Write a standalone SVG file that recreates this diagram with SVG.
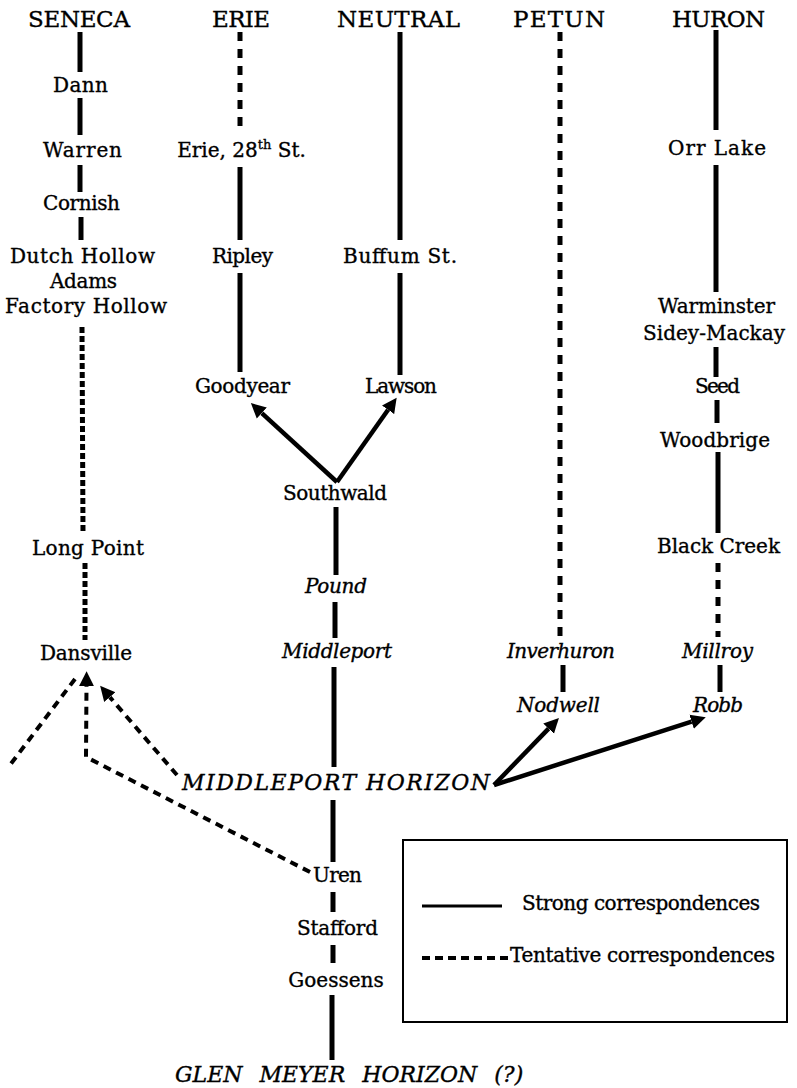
<svg xmlns="http://www.w3.org/2000/svg" width="797" height="1088" viewBox="0 0 797 1088">
<style>
text{font-family:"DejaVu Serif","Liberation Serif",serif;font-size:20px;fill:#000;stroke:#000;stroke-width:0.35;text-anchor:middle}
.h{font-size:23px}
.i{font-style:italic}
.hz{font-style:italic;font-size:22px;text-anchor:start}
.lg{text-anchor:start}
.s{stroke:#000;stroke-width:5;fill:none}
.d1{stroke:#000;stroke-width:5;fill:none;stroke-dasharray:6 3}
.d2{stroke:#000;stroke-width:5;fill:none;stroke-dasharray:9 8}
.d3{stroke:#000;stroke-width:4;fill:none;stroke-dasharray:8 6}
.a{stroke:#000;stroke-width:4.5;fill:none}
</style>
<defs>
<marker id="ah" markerUnits="userSpaceOnUse" markerWidth="16" markerHeight="16" refX="0" refY="0" viewBox="0 -7 14 14" orient="auto">
<path d="M0,-6.5 L13,0 L0,6.5 z" fill="#000"/>
</marker>
</defs>
<rect width="797" height="1088" fill="#fff"/>
<g id="connectors">
<line class="s" x1="80" y1="32" x2="80" y2="72"/>
<line class="s" x1="80" y1="98" x2="80" y2="135"/>
<line class="s" x1="80" y1="165" x2="80" y2="192"/>
<line class="s" x1="81" y1="217" x2="81" y2="240"/>
<line class="d1" x1="82" y1="327" x2="83" y2="532"/>
<line class="d1" x1="85" y1="563" x2="85" y2="640"/>
<line class="d2" x1="240" y1="32" x2="240" y2="133"/>
<line class="s" x1="240" y1="167" x2="240" y2="240"/>
<line class="s" x1="240" y1="273" x2="240" y2="372"/>
<line class="s" x1="400" y1="32" x2="400" y2="240"/>
<line class="s" x1="400" y1="273" x2="400" y2="375"/>
<line class="d2" x1="560" y1="32" x2="560" y2="640"/>
<line class="s" x1="563" y1="665" x2="563" y2="692"/>
<line class="s" x1="716" y1="30" x2="716" y2="130"/>
<line class="s" x1="716" y1="165" x2="716" y2="292"/>
<line class="s" x1="716" y1="347" x2="716" y2="377"/>
<line class="s" x1="717" y1="400" x2="717" y2="423"/>
<line class="s" x1="718" y1="452" x2="718" y2="533"/>
<line class="d2" x1="718" y1="563" x2="718" y2="637"/>
<line class="s" x1="720" y1="665" x2="720" y2="692"/>
<line class="s" x1="336" y1="507" x2="336" y2="575"/>
<line class="s" x1="335" y1="602" x2="335" y2="638"/>
<line class="s" x1="334" y1="667" x2="334" y2="767"/>
<line class="s" x1="333" y1="800" x2="333" y2="862"/>
<line class="s" x1="333" y1="892" x2="333" y2="912"/>
<line class="s" x1="333" y1="945" x2="333" y2="963"/>
<line class="s" x1="332" y1="995" x2="332" y2="1060"/>
<line class="a" x1="337" y1="482" x2="261.8" y2="413.1" marker-end="url(#ah)"/>
<line class="a" x1="337" y1="482" x2="388.1" y2="409.8" marker-end="url(#ah)"/>
<line class="a" x1="494" y1="785" x2="548.6" y2="728.6" marker-end="url(#ah)"/>
<line class="a" x1="494" y1="785" x2="691.6" y2="721.7" marker-end="url(#ah)"/>
<path class="d3" d="M310,872 L86,757 L86.5,686" marker-end="url(#ah)"/>
<line class="d3" x1="177" y1="775" x2="109.8" y2="697.1" marker-end="url(#ah)"/>
<line class="d3" x1="75" y1="679" x2="10" y2="765"/>
</g>
<g id="hdr-seneca"><text class="h" x="79" y="27" textLength="102">SENECA</text></g>
<g id="hdr-erie"><text class="h" x="241" y="27" textLength="58">ERIE</text></g>
<g id="hdr-neutral"><text class="h" x="398.5" y="27" textLength="123">NEUTRAL</text></g>
<g id="hdr-petun"><text class="h" x="559" y="27" textLength="92">PETUN</text></g>
<g id="hdr-huron"><text class="h" x="718.5" y="27" textLength="93">HURON</text></g>
<g id="dann"><text x="80.5" y="92" textLength="55">Dann</text></g>
<g id="warren"><text x="82.5" y="157" textLength="79">Warren</text></g>
<g id="cornish"><text x="81.5" y="210" textLength="77">Cornish</text></g>
<g id="dutch-hollow"><text x="82.5" y="263" textLength="145">Dutch Hollow</text></g>
<g id="adams"><text x="83.5" y="288" textLength="67">Adams</text></g>
<g id="factory-hollow"><text x="86" y="313" textLength="162">Factory Hollow</text></g>
<g id="long-point"><text x="88" y="555" textLength="112">Long Point</text></g>
<g id="dansville"><text x="86" y="660" textLength="92">Dansville</text></g>
<g id="erie-28"><text x="241.5" y="157">Erie, 28<tspan font-size="13" dy="-8">th</tspan><tspan dy="8"> St.</tspan></text></g>
<g id="ripley"><text x="242.5" y="263" textLength="61">Ripley</text></g>
<g id="goodyear"><text x="242.5" y="393" textLength="95">Goodyear</text></g>
<g id="buffum"><text x="400" y="263" textLength="114">Buffum St.</text></g>
<g id="lawson"><text x="401" y="393" textLength="72">Lawson</text></g>
<g id="southwald"><text x="335" y="500" textLength="104">Southwald</text></g>
<g id="pound"><text class="i" x="336" y="593" textLength="62">Pound</text></g>
<g id="middleport"><text class="i" x="337" y="658" textLength="110">Middleport</text></g>
<g id="middleport-horizon"><text class="hz" x="182" y="790" textLength="308">MIDDLEPORT  HORIZON</text></g>
<g id="uren"><text x="337.5" y="882" textLength="49">Uren</text></g>
<g id="stafford"><text x="337.5" y="935" textLength="81">Stafford</text></g>
<g id="goessens"><text x="336" y="987" font-size="18">Goessens</text></g>
<g id="glen-meyer"><text class="hz" x="175" y="1082" font-size="23" word-spacing="10">GLEN MEYER HORIZON (?)</text></g>
<g id="inverhuron"><text class="i" x="561" y="658" textLength="108">Inverhuron</text></g>
<g id="nodwell"><text class="i" x="558.5" y="712" textLength="83">Nodwell</text></g>
<g id="orr-lake"><text x="717" y="155" textLength="98">Orr Lake</text></g>
<g id="warminster"><text x="716.5" y="313" textLength="117">Warminster</text></g>
<g id="sidey-mackay"><text x="714" y="340" textLength="142">Sidey-Mackay</text></g>
<g id="seed"><text x="717.5" y="393" textLength="45">Seed</text></g>
<g id="woodbrige"><text x="715" y="447" textLength="110">Woodbrige</text></g>
<g id="black-creek"><text x="718.5" y="553" textLength="123">Black Creek</text></g>
<g id="millroy"><text class="i" x="717.5" y="658" textLength="71">Millroy</text></g>
<g id="robb"><text class="i" x="718" y="712" textLength="50">Robb</text></g>
<g id="legend">
<rect x="403" y="840" width="384" height="182" fill="none" stroke="#000" stroke-width="2"/>
<line x1="422" y1="906" x2="502" y2="906" stroke="#000" stroke-width="3"/>
<line x1="422" y1="958" x2="508" y2="958" stroke="#000" stroke-width="4" stroke-dasharray="8 5"/>
<text class="lg" x="522" y="910" textLength="238">Strong correspondences</text>
<text class="lg" x="510" y="962" textLength="265">Tentative correspondences</text>
</g>
</svg>
